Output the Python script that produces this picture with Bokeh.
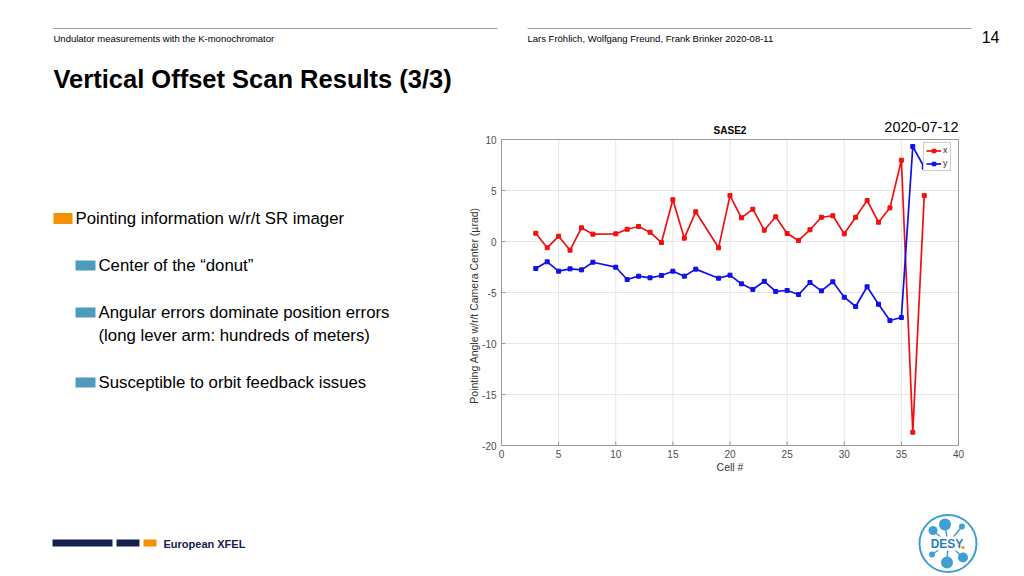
import numpy as np
from bokeh.plotting import figure
from bokeh.models import Range1d, Legend, LegendItem
from bokeh.core.properties import value
from bokeh.embed import file_html
from bokeh.resources import INLINE

# ---------------- data ----------------
cells = [3, 4, 5, 6, 7, 8, 10, 11, 12, 13, 14, 15, 16, 17, 19, 20, 21, 22, 23, 24,
         25, 26, 27, 28, 29, 30, 31, 32, 33, 34, 35, 36, 37]
x_offset = [0.81, -0.62, 0.52, -0.85, 1.34, 0.72, 0.75, 1.20, 1.47, 0.91, -0.10, 4.09,
            0.33, 2.91, -0.62, 4.50, 2.32, 3.17, 1.11, 2.42, 0.78, 0.10, 1.15, 2.38,
            2.52, 0.75, 2.38, 4.02, 1.89, 3.30, 7.97, -18.70, 4.50]
y_offset = [-2.65, -1.99, -2.91, -2.68, -2.78, -2.03, -2.52, -3.73, -3.40, -3.56, -3.33,
            -2.91, -3.40, -2.71, -3.60, -3.30, -4.15, -4.70, -3.90, -4.90, -4.80, -5.20,
            -4.02, -4.84, -3.95, -5.46, -6.37, -4.44, -6.15, -7.75, -7.45, 9.31, 7.28]
x_ticks = [0, 5, 10, 15, 20, 25, 30, 35, 40]
y_ticks = [-20, -15, -10, -5, 0, 5, 10]
x_lim = (0, 40)
y_lim = (-20, 10)

FONT = "Liberation Sans"
W, H = 1016, 574
# chart box on the page (pixels)
BX0, BX1, BY0, BY1 = 501, 958, 139, 445

# map the whole canvas to chart units so that the chart box spans the limits
kx = (x_lim[1] - x_lim[0]) / (BX1 - BX0)
ky = (y_lim[1] - y_lim[0]) / (BY1 - BY0)
cell_range = Range1d(x_lim[0] - BX0 * kx, x_lim[1] + (W - BX1) * kx)
val_range = Range1d(y_lim[0] - (H - BY1) * ky, y_lim[1] + BY0 * ky)

p = figure(width=W, height=H, output_backend="svg", toolbar_location=None,
           x_range=Range1d(0, W), y_range=Range1d(H, 0),
           x_axis_type=None, y_axis_type=None, min_border=0)
p.extra_x_ranges = {"cell": cell_range}
p.extra_y_ranges = {"val": val_range}
p.outline_line_color = None
p.background_fill_color = "white"
p.border_fill_color = "white"
p.grid.visible = False

C = dict(x_range_name="cell", y_range_name="val")
nx, ny = len(x_ticks), len(y_ticks)

# grid
p.segment(x0=x_ticks, y0=[y_lim[0]] * nx, x1=x_ticks, y1=[y_lim[1]] * nx,
          line_color="#e6e6e6", line_width=1, **C)
p.segment(x0=[x_lim[0]] * ny, y0=y_ticks, x1=[x_lim[1]] * ny, y1=y_ticks,
          line_color="#e6e6e6", line_width=1, **C)
# box
p.quad(left=[x_lim[0]], right=[x_lim[1]], bottom=[y_lim[0]], top=[y_lim[1]],
       fill_color=None, line_color="#9a9a9a", line_width=1, **C)
# tick marks (inside, 4 px)
p.segment(x0=x_ticks, y0=[y_lim[0]] * nx, x1=x_ticks, y1=[y_lim[0] + 4 * ky] * nx,
          line_color="#9a9a9a", **C)
p.segment(x0=[x_lim[0]] * ny, y0=y_ticks, x1=[x_lim[0] + 4 * kx] * ny, y1=y_ticks,
          line_color="#9a9a9a", **C)
# tick labels
p.text(x=x_ticks, y=[y_lim[0]] * nx, text=[str(t) for t in x_ticks],
       text_font=value(FONT), text_font_size="10px", text_color="#4d4d4d",
       text_align="center", text_baseline="top", y_offset=4, **C)
p.text(x=[x_lim[0]] * ny, y=y_ticks, text=[str(t) for t in y_ticks],
       text_font=value(FONT), text_font_size="10px", text_color="#4d4d4d",
       text_align="right", text_baseline="middle", x_offset=-5, **C)

# data
lx = p.line(cells, x_offset, line_color="#f01010", line_width=1.7, **C)
sx = p.scatter(cells, x_offset, marker="square", size=4, fill_color="#f01010",
               line_color="#f01010", **C)
ly = p.line(cells, y_offset, line_color="#1010e8", line_width=1.7, **C)
sy = p.scatter(cells, y_offset, marker="square", size=4, fill_color="#1010e8",
               line_color="#1010e8", **C)

legend = Legend(items=[LegendItem(label="x", renderers=[lx, sx]),
                       LegendItem(label="y", renderers=[ly, sy])],
                location=(923, H - 171), label_text_font=FONT, label_text_font_size="9px",
                label_text_color="#333333", glyph_width=15, glyph_height=9,
                label_height=9, label_width=5, label_standoff=2, padding=2, spacing=3,
                margin=0, border_line_color="#9a9a9a", background_fill_alpha=1)
p.add_layout(legend)


def lab(x, y, text, size, color="#000000", bold=False, align="left", angle=0.0):
    p.text(x=[x], y=[y], text=[text], text_font=value(FONT), text_font_size=f"{size}px",
           text_color=color, text_font_style="bold" if bold else "normal",
           text_align=align, text_baseline="middle", angle=angle)


def box(l, r, t, b, color):
    p.quad(left=[l], right=[r], top=[t], bottom=[b], fill_color=color, line_color=None)


# chart texts
lab((BX0 + BX1) / 2, 130, "SASE2", 10, bold=True, align="center")
lab((BX0 + BX1) / 2, 466, "Cell #", 10.5, color="#333333", align="center")
lab(473, 305, "Pointing Angle w/r/t Camera Center (µrad)", 10.5, color="#333333",
    align="center", angle=np.pi / 2)
lab(958, 126, "2020-07-12", 14.5, align="right")

# slide header
box(53, 497, 27.5, 28.5, "#a0a0a0")
box(527, 971, 27.5, 28.5, "#a0a0a0")
lab(53, 38, "Undulator measurements with the K-monochromator", 9.5)
lab(527, 38, "Lars Fröhlich, Wolfgang Freund, Frank Brinker 2020-08-11", 9.5)
lab(999, 36, "14", 16, align="right")
lab(53, 78, "Vertical Offset Scan Results (3/3)", 25.5, bold=True)

# bullets
box(53, 72, 212.5, 223.5, "#f39200")
lab(75, 218, "Pointing information w/r/t SR imager", 16.8)
for yb in (265, 312, 382):
    box(75, 95, yb - 5, yb + 5, "#4d9bbf")
lab(98, 265, "Center of the \u201cdonut\u201d", 16.8)
lab(98, 312, "Angular errors dominate position errors", 16.8)
lab(98, 335, "(long lever arm: hundreds of meters)", 16.8)
lab(98, 382, "Susceptible to orbit feedback issues", 16.8)

# footer: European XFEL
box(52, 112, 539, 546, "#15204f")
box(116, 139, 539, 546, "#15204f")
box(143, 156, 539, 546, "#f39200")
lab(163, 543, "European XFEL", 11, color="#15204f", bold=True)

# DESY logo
cx, cy = 947.5, 543
p.circle(x=[cx], y=[cy], radius=28.5, fill_color=None, line_color="#3f9fd4", line_width=2)
dots_dx = [-3, -15, 14, 15, -1, -16]
dots_dy = [-19, -13, -17, 14, 19, 11]
dots_r = [6, 4.5, 3, 5, 6, 3]
p.segment(x0=[cx] * 6, y0=[cy] * 6, x1=[cx + d for d in dots_dx], y1=[cy + d for d in dots_dy],
          line_color="#3f9fd4", line_width=1.5)
p.quad(left=[cx - 17], right=[cx + 16], top=[cy - 7], bottom=[cy + 7], fill_color="white",
       line_color=None)
p.circle(x=[cx + d for d in dots_dx], y=[cy + d for d in dots_dy], radius=dots_r,
         fill_color="#3f9fd4", line_color=None)
lab(cx - 1, cy + 0.5, "DESY", 12, color="#2a7fbf", bold=True, align="center")
p.circle(x=[cx + 15], y=[cy + 4], radius=1.6, fill_color="#f39200", line_color=None)

open("out.html", "w").write(file_html(p, INLINE))
